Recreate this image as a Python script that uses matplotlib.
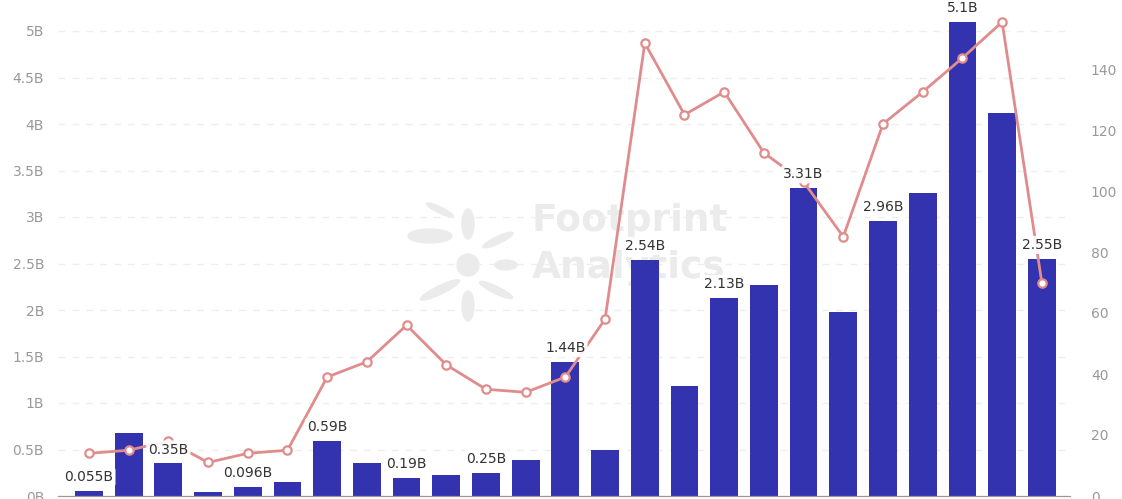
import matplotlib
matplotlib.use("Agg")
import matplotlib.pyplot as plt
from matplotlib.patches import Ellipse

# bar values (billions) and line values (right axis)
volume_b = [0.055, 0.68, 0.35, 0.04, 0.096, 0.15, 0.59, 0.35, 0.19, 0.23, 0.25, 0.39, 1.44,
            0.50, 2.54, 1.18, 2.13, 2.27, 3.31, 1.98, 2.96, 3.26, 5.1, 4.12, 2.55]
count = [14, 15, 18, 11, 14, 15, 39, 44, 56, 43, 35, 34, 39,
         58, 148.5, 125, 132.5, 112.5, 103, 85, 122, 132.5, 143.6, 155.4, 70]
left_ticks = [0, 0.5, 1, 1.5, 2, 2.5, 3, 3.5, 4, 4.5, 5]
left_labels = ['0B', '0.5B', '1B', '1.5B', '2B', '2.5B', '3B', '3.5B', '4B', '4.5B', '5B']
right_ticks = [0, 20, 40, 60, 80, 100, 120, 140]

x = list(range(len(volume_b)))

fig = plt.figure(figsize=(11.22, 4.99), dpi=100)
ax = fig.add_axes([58 / 1122, 3 / 499, (1070 - 58) / 1122, 496 / 499])
ax2 = ax.twinx()

# watermark (logo roughly + text)
wm = '#ebebeb'
logo = [(468, 265, 22, 22, 0), (468, 224, 12, 30, 0), (468, 306, 12, 30, 0),
        (430, 236, 44, 14, 0), (506, 265, 22, 10, 0), (440, 290, 14, 26, -40),
        (498, 240, 12, 20, -40), (440, 210, 10, 18, 40), (496, 290, 12, 22, 40)]
for cx, cy, w, h, ang in logo:
    fig.patches.append(Ellipse((cx / 1122, 1 - cy / 499), w / 1122, h / 499, angle=ang,
                               transform=fig.transFigure, color=wm, zorder=0))
ax.text(0.468, 0.555, 'Footprint', transform=ax.transAxes, fontsize=27, fontweight='bold',
        color=wm, ha='left', va='center', zorder=0)
ax.text(0.468, 0.46, 'Analytics', transform=ax.transAxes, fontsize=27, fontweight='bold',
        color=wm, ha='left', va='center', zorder=0)

ax.bar(x, volume_b, width=0.7, color='#3333b0', zorder=2)

ax2.plot(x, count, color='#e08c8c', linewidth=2, marker='o', markersize=6,
         markerfacecolor='white', markeredgecolor='#e08c8c', markeredgewidth=1.6, zorder=3)

# labels drawn on top of the line
for i in range(0, len(volume_b), 2):
    ax2.annotate('%gB' % volume_b[i], (i, volume_b[i]), xycoords=ax.transData,
                 xytext=(0, 5), textcoords='offset points',
                 ha='center', va='bottom', fontsize=10, color='#333333', zorder=5,
                 bbox=dict(boxstyle='round,pad=0.15', fc='white', ec='none', alpha=0.9))

ax.set_xlim(-0.78, 24.71)
ax.set_ylim(0, 496 / 93)
ax2.set_ylim(0, 496 / 3.05)

ax.set_yticks(left_ticks)
ax.set_yticklabels(left_labels)
ax2.set_yticks(right_ticks)
ax.set_xticks([])

ax.grid(axis='y', linestyle=(0, (5, 5)), color='#eeeeee', linewidth=1)
ax.set_axisbelow(True)

for a in (ax, ax2):
    for s in ('top', 'left', 'right'):
        a.spines[s].set_visible(False)
    a.spines['bottom'].set_color('#999999')
    a.tick_params(axis='y', length=0, labelsize=10, labelcolor='#999999')
ax.tick_params(axis='y', pad=10)
ax2.tick_params(axis='y', pad=15)

fig.savefig('out.png', dpi=100)
